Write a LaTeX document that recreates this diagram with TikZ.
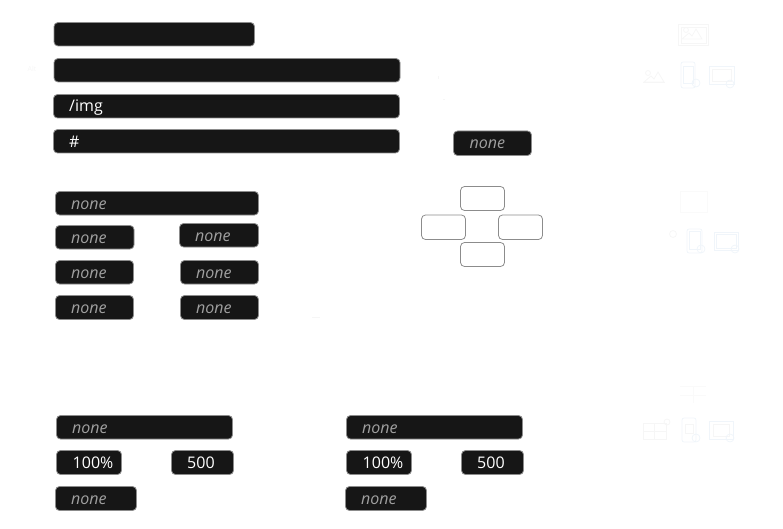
\documentclass[tikz,border=0pt]{standalone}
\usepackage{fontspec}
\setmainfont{Open Sans}
\definecolor{fieldfill}{HTML}{161616}
\definecolor{fieldline}{HTML}{8C8C8C}
\definecolor{hint}{HTML}{A0A0A0}
\definecolor{paleg}{HTML}{F6F6F6}
\definecolor{paleb}{HTML}{F0F5FA}
\tikzset{
  field/.style={draw=fieldline,fill=fieldfill,line width=0.8pt,rounded corners=4pt},
  blank/.style={draw=fieldline,fill=white,line width=0.8pt,rounded corners=4pt},
  val/.style={text=white,font=\fontsize{16}{18}\selectfont,inner sep=0pt,anchor=base west},
  hintt/.style={text=hint,font=\fontsize{16}{18}\selectfont\itshape,inner sep=0pt,anchor=base west},
  pg/.style={draw=paleg,line width=0.8pt},
  pb/.style={draw=paleb,line width=0.8pt}
}
% x0 y0 x1 y1
\newcommand{\fld}[4]{\draw[field] (#1,#2) rectangle (#3,#4);}
\newcommand{\blk}[4]{\draw[blank] (#1,#2) rectangle (#3,#4);}
\newcommand{\mtn}[2]{% small landscape at x,y
  \begin{scope}[shift={(#1,#2)}]
    \draw[pg] (0,0) circle (2.5);
    \draw[pg] (-4,9) -- (3,3) -- (6,6) -- (10,-1) -- (16,9) -- cycle;
  \end{scope}}
\begin{document}
\begin{tikzpicture}[x=1pt,y=-1pt]
\useasboundingbox (0,0) rectangle (783,529);
% top fields
\fld{54}{22.5}{254.5}{46}
\fld{54}{58.5}{400}{82}
\fld{53.5}{94.5}{399.5}{118}
\fld{53.5}{129.5}{399.5}{153}
\node[val] (img) at (69,112) {/img};
\node[val] (hash) at (69,147.5) {\#};
\node[text=paleg,font=\fontsize{7}{8}\selectfont,inner sep=0pt] (alt) at (32,69) {Alt};
% none right
\fld{453.5}{131}{531.5}{155.5}
\node[hintt] at (469.5,149) {none};
% blank cross
\blk{460.5}{186.5}{504.5}{210.5}
\blk{421.5}{215}{465.5}{239.5}
\blk{498.5}{215}{542.5}{239.5}
\blk{460.5}{242.5}{504.5}{266.5}
% middle group
\fld{55.5}{191.5}{258.5}{215}
\node[hintt] at (71,209) {none};
\fld{55.5}{225.5}{134}{249}
\node[hintt] at (71,243) {none};
\fld{179.5}{223.5}{258.5}{247}
\node[hintt] at (195,241) {none};
\fld{55.5}{260.5}{133.5}{284}
\node[hintt] at (71,278) {none};
\fld{180.5}{260.5}{258.5}{284}
\node[hintt] at (196,278) {none};
\fld{55.5}{295.5}{133.5}{319.5}
\node[hintt] at (71,313) {none};
\fld{180.5}{295.5}{258.5}{319.5}
\node[hintt] at (196,313) {none};
% bottom left
\fld{56.5}{415.5}{232.5}{439}
\node[hintt] at (72,433) {none};
\fld{56.5}{450.5}{121.5}{474.5}
\node[val] at (72.5,468) {100\%};
\fld{171.5}{450.5}{233.5}{474.5}
\node[val] at (187,468) {500};
\fld{55.5}{486.5}{136.5}{510.5}
\node[hintt] at (71,504) {none};
% bottom right
\fld{346.5}{415.5}{522.5}{439}
\node[hintt] at (362,433) {none};
\fld{346.5}{450.5}{411.5}{474.5}
\node[val] at (362.5,468) {100\%};
\fld{461.5}{450.5}{523.5}{474.5}
\node[val] at (477,468) {500};
\fld{345.5}{486.5}{426.5}{510.5}
\node[hintt] at (361,504) {none};
% faint specks
\draw[pg] (438,76) -- (438,79);
\draw[pg] (443,99.5) -- (445,99.5);
\draw[pg] (312,317) -- (320,317);
% icons row 1
\draw[pg] (678,24) rectangle (708,45);
\draw[pg] (681,27) rectangle (706,43);
\mtn{686}{30}
\mtn{648}{73}
\draw[pg] (643,82) -- (665,82);
\draw[pb,rounded corners=2pt] (681,62) rectangle (695,88);
\draw[pb] (683,66) rectangle (693,83);
\draw[pb] (696,83) circle (4);
\draw[pb] (709,66) rectangle (734,84);
\draw[pg] (712,69) rectangle (731,81);
\draw[pb] (730,84) circle (4);
% icons row 2
\draw[paleg!60,line width=0.8pt] (680,191) rectangle (707,212);
\draw[pg] (673,234) circle (3.5);
\draw[pb,rounded corners=2pt] (687,229) rectangle (702,253);
\draw[pb] (689,231) rectangle (700,249);
\draw[pb] (701,249) circle (4);
\draw[pb] (714,232) rectangle (738,250);
\draw[pb] (716,234) rectangle (736,248);
\draw[pb] (735,249) circle (4);
% icons row 3
\draw[paleg!60,line width=0.8pt] (680,386) -- (706,386) (680,395) -- (706,395) (693,386) -- (693,403);
\draw[pg] (643,423) rectangle (666,439);
\draw[pg] (654,423) -- (654,439) (643,431) -- (666,431);
\draw[pg] (667,422) circle (3);
\draw[pb,rounded corners=2pt] (682,418) rectangle (696,442);
\draw[pg] (685,424) rectangle (693,433);
\draw[pb] (696,438) circle (4);
\draw[pb] (709,421) rectangle (733,439);
\draw[pg] (713,424) rectangle (729,436);
\draw[pb] (730,438) circle (4);
\end{tikzpicture}
\end{document}
